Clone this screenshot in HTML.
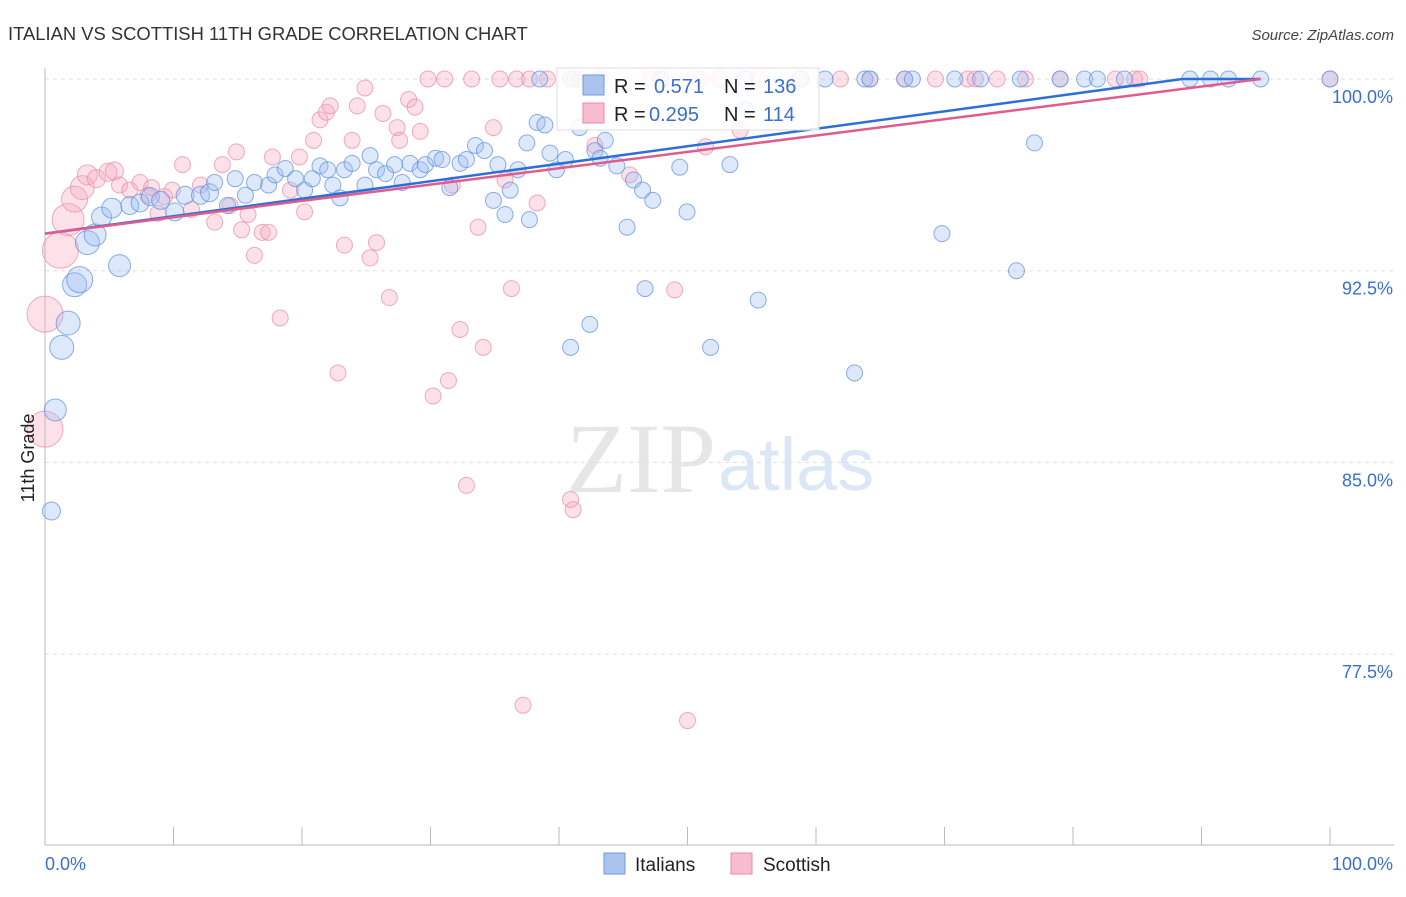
<!DOCTYPE html>
<html><head><meta charset="utf-8">
<style>
body{margin:0;background:#fff;font-family:"Liberation Sans",sans-serif;}
svg text{font-family:"Liberation Sans",sans-serif;}
</style></head>
<body>
<svg id="chart" width="1406" height="892" xmlns="http://www.w3.org/2000/svg">
<text x="8" y="40" font-size="18.4" fill="#333">ITALIAN VS SCOTTISH 11TH GRADE CORRELATION CHART</text>
<text x="1394" y="40" font-size="15" fill="#444" font-style="italic" text-anchor="end">Source: ZipAtlas.com</text>
<text x="716" y="492" font-size="100" fill="#e6e6e6" text-anchor="end" style="font-family:'Liberation Serif',serif">ZIP</text>
<text x="718" y="490" font-size="74" fill="#dbe7f5">atlas</text>
<g id="grid"></g>
<g id="axes"></g>
<g id="pts"></g>
<g id="trend"></g>
<text x="34" y="458" font-size="18" fill="#222" transform="rotate(-90 34 458)" text-anchor="middle">11th Grade</text>
<g>
<rect x="557" y="68" width="262" height="62" fill="#fff" fill-opacity="0.85" stroke="#ddd"/>
<rect x="583" y="75" width="21" height="20" fill="#aac4ee" stroke="#6b9be0"/>
<text x="614" y="93" font-size="20" fill="#222">R = </text><text x="654" y="93" font-size="20" fill="#3a6fd0">0.571</text>
<text x="724" y="93" font-size="20" fill="#222">N = </text><text x="763" y="93" font-size="20" fill="#3a6fd0">136</text>
<rect x="583" y="103" width="21" height="20" fill="#f7bccd" stroke="#e88aa5"/>
<text x="614" y="121" font-size="20" fill="#222">R = </text><text x="649" y="121" font-size="20" fill="#3a6fd0">0.295</text>
<text x="724" y="121" font-size="20" fill="#222">N = </text><text x="763" y="121" font-size="20" fill="#3a6fd0">114</text>
</g>
<g>
<rect x="604" y="853" width="21" height="21" fill="#aac4ee" stroke="#6b9be0"/>
<text x="635" y="871" font-size="19" fill="#222">Italians</text>
<rect x="731" y="853" width="21" height="21" fill="#f7bccd" stroke="#e88aa5"/>
<text x="763" y="871" font-size="19" fill="#222">Scottish</text>
</g>
</svg>
<script>
const yTicks=[77.5,85.0,92.5,100.0];
const blueX=[0.5,0.8,1.3,1.8,2.3,2.7,3.3,3.9,5.8,4.4,5.2,6.6,7.4,8.2,9.0,10.1,10.9,12.1,12.8,13.2,14.2,14.8,15.6,16.3,17.4,17.9,18.7,19.5,20.2,20.8,21.4,22.0,22.4,22.96,23.3,23.9,24.9,25.3,25.8,26.5,27.2,27.8,28.4,29.2,29.6,30.4,30.9,31.5,32.3,32.8,33.5,34.2,34.9,35.25,35.8,36.2,36.8,37.5,37.7,38.3,38.9,39.3,39.8,40.5,40.9,41.6,42.4,42.8,43.2,43.6,44.5,45.3,45.8,46.5,46.7,47.3,49.4,49.96,51.8,53.3,54.5,55.5,63.0,69.8,75.6,77.0,
38.5,40.9,47.9,54.5,58.8,60.7,63.8,64.2,66.9,67.5,70.8,72.8,75.9,79.0,80.9,81.9,84.0,89.1,90.7,92.1,94.6,100];
const blueY=[83.1,87.05,89.5,90.45,91.95,92.15,93.6,93.9,92.7,94.6,94.95,95.05,95.15,95.4,95.25,94.8,95.45,95.45,95.55,95.95,95.05,96.1,95.45,95.95,95.85,96.25,96.5,96.1,95.65,96.1,96.6,96.45,95.85,95.35,96.45,96.7,95.85,97.0,96.45,96.3,96.65,95.95,96.7,96.45,96.65,96.9,96.85,95.75,96.7,96.85,97.4,97.2,95.25,96.65,94.7,95.65,96.45,97.5,94.5,98.3,98.2,97.1,96.45,96.85,89.5,98.1,90.4,97.2,96.9,97.6,96.6,94.2,96.05,95.65,91.8,95.25,96.55,94.8,89.5,96.65,98.8,91.35,88.5,93.95,92.5,97.5,
100,100,100,100,100,100,100,100,100,100,100,100,100,100,100,100,100,100,100,100,100,100];
const blueR=[9,11,12,12,12,13,12,11,11,10,10,9,9,9,9,9,9,9,9,8];
const pinkX=[0,0,1.2,1.8,2.3,2.9,3.3,4.0,4.9,5.4,5.8,6.6,7.4,8.0,8.3,8.8,9.3,9.9,10.7,11.4,12.1,13.2,13.8,14.4,14.9,15.3,15.8,16.3,16.9,17.4,17.7,18.3,19.1,19.8,20.2,20.9,21.4,21.9,22.2,22.8,23.3,23.9,24.3,24.9,25.3,25.8,26.3,26.8,27.4,27.6,28.3,28.8,29.2,30.2,31.4,31.7,32.3,32.8,33.7,34.1,34.9,35.8,36.3,37.2,38.3,40.9,41.1,42.8,45.5,49.0,50.0,51.4,54.1,
29.8,31.1,33.2,35.4,36.7,37.7,39.1,41.2,41.6,43.2,47.1,48.2,51.0,52.5,55.6,58.8,61.9,64.2,66.9,69.3,71.8,72.4,74.1,76.3,79.0,83.3,84.8,85.2,100];
const pinkY=[86.3,90.8,93.3,94.5,95.3,95.75,96.25,96.1,96.35,96.4,95.85,95.65,95.95,95.45,95.75,94.75,95.4,95.65,96.65,94.9,95.85,94.4,96.65,95.05,97.15,94.1,94.7,93.1,94.0,94.0,96.95,90.65,95.65,96.95,94.8,97.6,98.4,98.7,98.95,88.5,93.5,97.6,98.95,99.65,93.0,93.6,98.65,91.45,98.1,97.6,99.2,98.9,97.95,87.6,88.2,95.85,90.2,84.1,94.2,89.5,98.1,96.05,91.8,75.5,95.15,83.55,83.15,97.4,96.25,91.75,74.9,97.35,98.0,
100,100,100,100,100,100,100,100,100,100,100,100,100,100,100,100,100,100,100,100,100,100,100,100,100,100,100,100,100];
const pinkR=[18,18,18,16,13,12,10,9,9,9];
const blueTrend=[[0,93.95],[88.5,100],[94.6,100]];
const pinkTrend=[[0,93.95],[94.6,100]];

const X=v=>45+v/100*1285;
const Y=v=>79+(100-v)/7.5*191.7;
const NS="http://www.w3.org/2000/svg";
function mk(tag,attrs,parent){const e=document.createElementNS(NS,tag);for(const k in attrs)e.setAttribute(k,attrs[k]);parent.appendChild(e);return e;}
const grid=document.getElementById('grid'),axes=document.getElementById('axes'),pts=document.getElementById('pts'),tr=document.getElementById('trend');
yTicks.forEach(t=>{
  const l=mk('line',{x1:45,x2:1394,y1:Y(t),y2:Y(t),stroke:'#ddd','stroke-dasharray':'4,4'},grid);
  
  
  const tx=mk('text',{x:1393,y:Y(t)+24,'font-size':18,fill:'#3a6fd0','text-anchor':'end'},grid);
  tx.textContent=t.toFixed(1)+'%';
  
  
});
mk('line',{x1:45,x2:45,y1:68,y2:845,stroke:'#bbb'},axes);
mk('line',{x1:45,x2:1394,y1:845,y2:845,stroke:'#bbb'},axes);
for(let i=0;i<=10;i++){const x=45+i*128.5;mk('line',{x1:x,x2:x,y1:827,y2:845,stroke:'#bbb'},axes);}
const xl=mk('text',{x:45,y:870,'font-size':18,fill:'#3a6fd0'},axes);xl.textContent='0.0%';


const xr=mk('text',{x:1393,y:870,'font-size':18,fill:'#3a6fd0','text-anchor':'end'},axes);xr.textContent='100.0%';


function drawPts(xs,ys,rs,fill,stroke,name){
  xs.forEach((v,i)=>{
    const c=mk('circle',{cx:X(v),cy:Y(ys[i]),r:rs[i]||8,fill:fill,'fill-opacity':0.35,stroke:stroke,'stroke-opacity':0.7},pts);
    
    
  });
}
drawPts(pinkX,pinkY,pinkR,'#f7a8c0','#e88aa5','scottish-point');
drawPts(blueX,blueY,blueR,'#9dbcf0','#5b8fe0','italian-point');
function line(pts,col,name){
  const p=mk('polyline',{points:pts.map(q=>X(q[0])+','+Y(q[1])).join(' '),fill:'none',stroke:col,'stroke-width':2.5},tr);
  
  
}
line(blueTrend,'#2d6fd6','italians-trendline');
line(pinkTrend,'#e05c8c','scottish-trendline');
</script>
</body></html>
